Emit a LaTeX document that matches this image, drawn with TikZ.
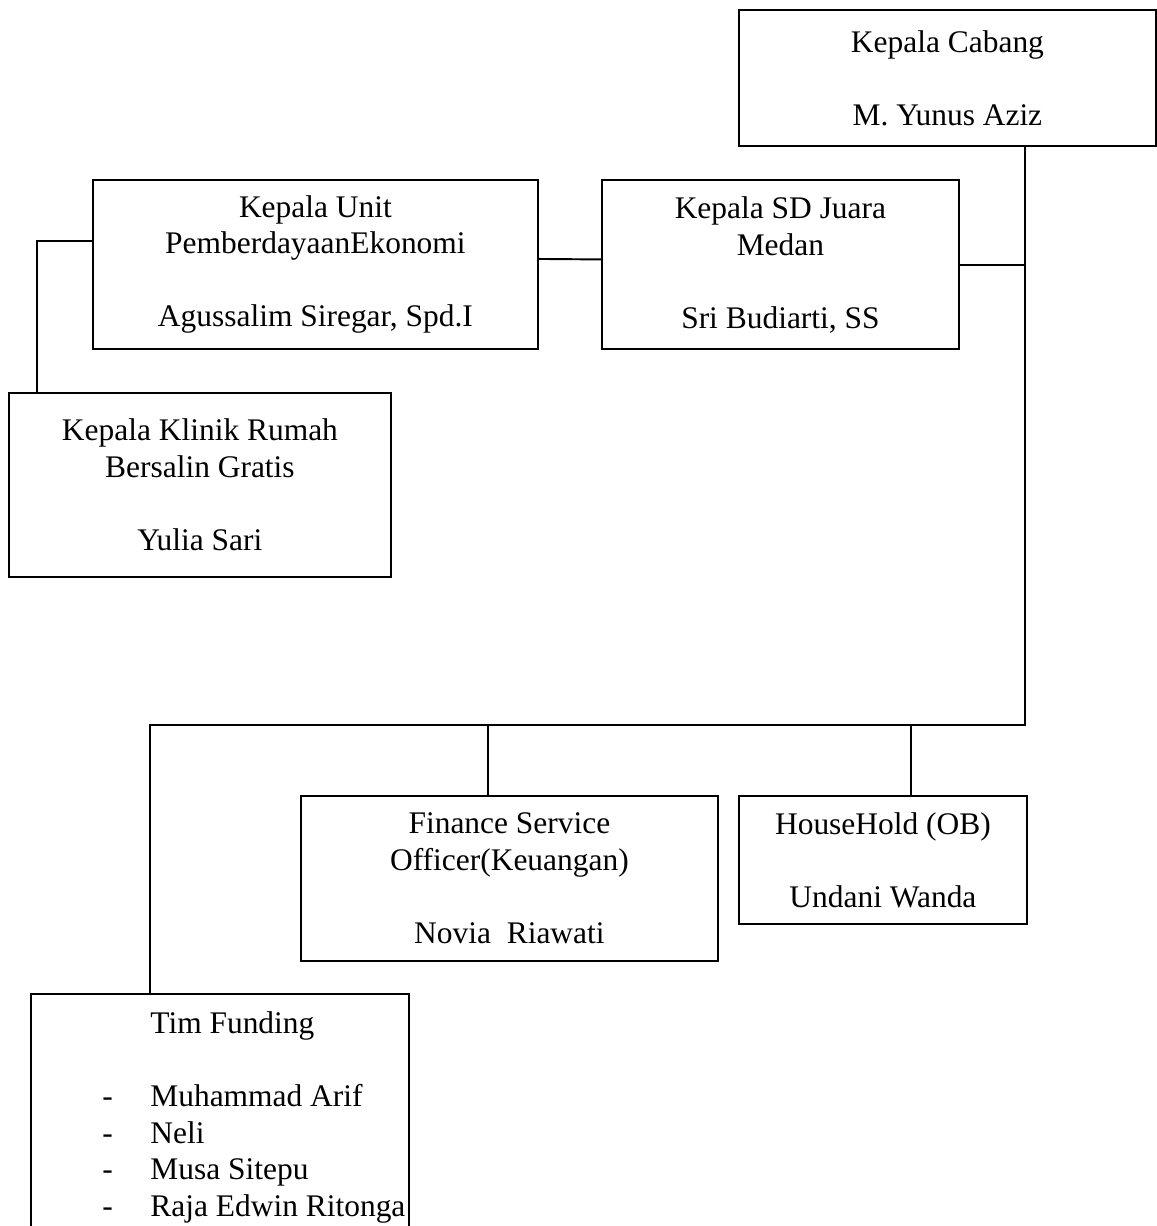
\documentclass[tikz,border=0pt]{standalone}
\usepackage{fontspec}
\setmainfont{Liberation Serif}
\tikzset{
  org-line/.style={
    line width=1.1pt,
    line cap=rect
  },
  org-box/.style={
    org-line,
    draw=black,
    rectangle,
    anchor=north west,
    align=center,
    inner sep=0pt,
    font=\fontsize{17.9}{20.8}\selectfont
  }
}
\newcommand{\orggap}{\\[20.8pt]}

\begin{document}
\begin{tikzpicture}[x=0.02cm, y=-0.02cm]
  \useasboundingbox (0,0) rectangle (1156,1226);
  % Top level
  \node[org-box, minimum width=8.34cm, minimum height=2.72cm] (cabang) at (738,9)
    {Kepala Cabang\orggap M. Yunus Aziz};
  % Units
  \node[org-box, minimum width=8.9cm, minimum height=3.38cm] (unit) at (92,179)
    {Kepala Unit\\ PemberdayaanEkonomi\orggap Agussalim Siregar, Spd.I};
  \node[org-box, minimum width=7.14cm, minimum height=3.38cm] (sd) at (601,179.5)
    {Kepala SD Juara\\ Medan\orggap Sri Budiarti, SS};
  \node[org-box, minimum width=7.64cm, minimum height=3.68cm] (klinik) at (8,392)
    {Kepala Klinik Rumah\\ Bersalin Gratis\orggap Yulia Sari};
  % Staff
  \node[org-box, minimum width=8.34cm, minimum height=3.3cm] (finance) at (300,795)
    {Finance Service\\ Officer(Keuangan)\orggap Novia\ \ Riawati};
  \node[org-box, minimum width=5.76cm, minimum height=2.56cm] (household) at (738,795)
    {HouseHold (OB)\orggap Undani Wanda};
  \node[org-box, minimum width=7.56cm, minimum height=4.94cm] (funding) at (30,993)
    {\begin{tabular}{@{}p{1.36cm}@{}p{0.96cm}@{}l@{}}
       & & Tim Funding\\
       & & \\
       & - & Muhammad Arif\\
       & - & Neli\\
       & - & Musa Sitepu\\
       & - & Raja Edwin Ritonga
     \end{tabular}};
  % Lines
  \coordinate (trunk) at (1025,725);
  \draw[org-line] (cabang.south -| trunk) -- (trunk) -| ([xshift=2.4cm]funding.north west);
  \draw[org-line] (sd.east) -- (sd.east -| trunk);
  \draw[org-line] ([yshift=0.11cm]unit.east) -- ([yshift=0.11cm]sd.west);
  \draw[org-line] ([yshift=0.47cm]unit.west) -| ([xshift=0.58cm]klinik.north west);
  \draw[org-line] ([xshift=-0.43cm]finance.north) -- ([xshift=-0.43cm]finance.north |- trunk);
  \draw[org-line] ([xshift=0.56cm]household.north) -- ([xshift=0.56cm]household.north |- trunk);
\end{tikzpicture}
\end{document}
